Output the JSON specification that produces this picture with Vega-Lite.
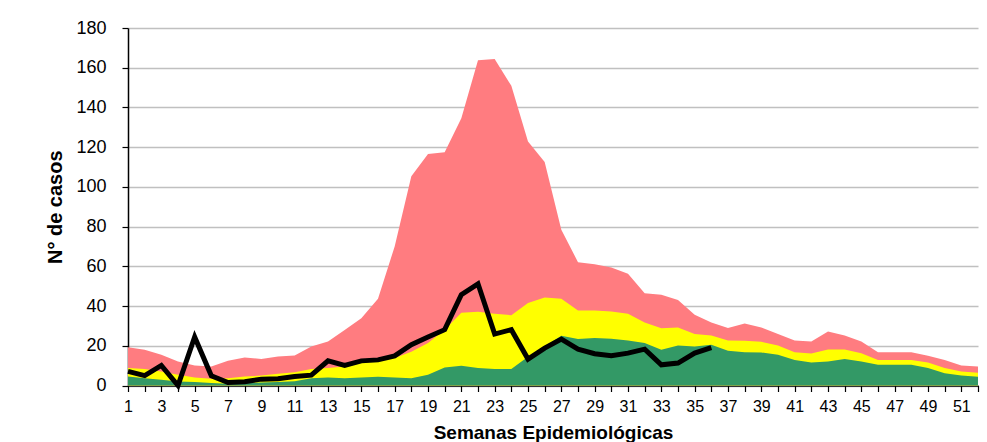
{
  "$schema": "https://vega.github.io/schema/vega-lite/v6.json",
  "width": 850,
  "height": 357.5,
  "autosize": "none",
  "padding": {"left": 128, "top": 28, "right": 9, "bottom": 56},
  "background": "white",
  "config": {
    "view": {"stroke": null},
    "font": "Liberation Sans",
    "axis": {"labelFont": "Liberation Sans", "titleFont": "Liberation Sans", "labelColor": "black", "titleColor": "black", "domainColor": "black", "tickColor": "black", "domainWidth": 1.5, "tickWidth": 1.2, "labelOverlap": false},
    "axisY": {"labelOverlap": false, "title": "N° de casos", "titleFontSize": 20, "titleFontWeight": "bold", "titlePadding": 10, "labelFontSize": 18, "labelPadding": 16, "tickSize": 6, "grid": true, "gridColor": "#c0c0c0", "gridWidth": 1.5}
  },
  "data": {
    "values": [
      {"semana": 1, "alerta": 19.3, "seguridad": 8.8, "exito": 4.5, "actual": 7.1},
      {"semana": 2, "alerta": 18.0, "seguridad": 8.3, "exito": 3.7, "actual": 5.0},
      {"semana": 3, "alerta": 15.5, "seguridad": 7.1, "exito": 2.9, "actual": 10.1},
      {"semana": 4, "alerta": 12.1, "seguridad": 5.4, "exito": 2.0, "actual": 0},
      {"semana": 5, "alerta": 10.1, "seguridad": 4.0, "exito": 1.7, "actual": 24.4},
      {"semana": 6, "alerta": 9.6, "seguridad": 3.4, "exito": 1.2, "actual": 4.9},
      {"semana": 7, "alerta": 12.4, "seguridad": 3.7, "exito": 0.9, "actual": 1.5},
      {"semana": 8, "alerta": 14.1, "seguridad": 4.5, "exito": 1.2, "actual": 1.9},
      {"semana": 9, "alerta": 13.4, "seguridad": 5.0, "exito": 1.5, "actual": 3.2},
      {"semana": 10, "alerta": 14.6, "seguridad": 5.9, "exito": 1.7, "actual": 3.4},
      {"semana": 11, "alerta": 15.1, "seguridad": 6.7, "exito": 2.2, "actual": 4.5},
      {"semana": 12, "alerta": 19.6, "seguridad": 8.3, "exito": 3.7, "actual": 5.2},
      {"semana": 13, "alerta": 22.2, "seguridad": 8.8, "exito": 4.0, "actual": 12.4},
      {"semana": 14, "alerta": 28.0, "seguridad": 9.6, "exito": 3.7, "actual": 10.1},
      {"semana": 15, "alerta": 33.9, "seguridad": 12.1, "exito": 4.0, "actual": 12.4},
      {"semana": 16, "alerta": 43.7, "seguridad": 12.9, "exito": 4.4, "actual": 12.9},
      {"semana": 17, "alerta": 70.0, "seguridad": 13.8, "exito": 4.0, "actual": 14.9},
      {"semana": 18, "alerta": 105.3, "seguridad": 17.0, "exito": 3.7, "actual": 20.5},
      {"semana": 19, "alerta": 116.5, "seguridad": 21.4, "exito": 5.4, "actual": 24.4},
      {"semana": 20, "alerta": 117.5, "seguridad": 28.1, "exito": 9.1, "actual": 28.1},
      {"semana": 21, "alerta": 134.6, "seguridad": 36.6, "exito": 9.9, "actual": 45.7},
      {"semana": 22, "alerta": 163.7, "seguridad": 37.1, "exito": 8.8, "actual": 51.2},
      {"semana": 23, "alerta": 164.4, "seguridad": 36.1, "exito": 8.3, "actual": 25.9},
      {"semana": 24, "alerta": 150.9, "seguridad": 35.4, "exito": 8.3, "actual": 28.1},
      {"semana": 25, "alerta": 122.9, "seguridad": 41.5, "exito": 14.5, "actual": 13.3},
      {"semana": 26, "alerta": 112.5, "seguridad": 44.3, "exito": 19.6, "actual": 18.8},
      {"semana": 27, "alerta": 78.4, "seguridad": 43.7, "exito": 25.0, "actual": 23.4},
      {"semana": 28, "alerta": 62.1, "seguridad": 37.8, "exito": 23.4, "actual": 18.3},
      {"semana": 29, "alerta": 61.1, "seguridad": 37.8, "exito": 23.9, "actual": 16.0},
      {"semana": 30, "alerta": 59.4, "seguridad": 37.3, "exito": 23.5, "actual": 15.0},
      {"semana": 31, "alerta": 56.3, "seguridad": 36.1, "exito": 22.7, "actual": 16.3},
      {"semana": 32, "alerta": 46.5, "seguridad": 31.7, "exito": 21.4, "actual": 18.3},
      {"semana": 33, "alerta": 45.7, "seguridad": 28.8, "exito": 18.0, "actual": 10.4},
      {"semana": 34, "alerta": 43.0, "seguridad": 29.2, "exito": 20.2, "actual": 11.3},
      {"semana": 35, "alerta": 35.6, "seguridad": 25.9, "exito": 19.6, "actual": 16.3},
      {"semana": 36, "alerta": 31.7, "seguridad": 25.2, "exito": 20.5, "actual": 19.1},
      {"semana": 37, "alerta": 28.9, "seguridad": 22.7, "exito": 17.5, "actual": null},
      {"semana": 38, "alerta": 31.2, "seguridad": 22.5, "exito": 16.8, "actual": null},
      {"semana": 39, "alerta": 29.2, "seguridad": 22.0, "exito": 16.6, "actual": null},
      {"semana": 40, "alerta": 25.9, "seguridad": 20.2, "exito": 15.5, "actual": null},
      {"semana": 41, "alerta": 22.7, "seguridad": 16.8, "exito": 12.9, "actual": null},
      {"semana": 42, "alerta": 22.2, "seguridad": 16.1, "exito": 11.6, "actual": null},
      {"semana": 43, "alerta": 27.2, "seguridad": 18.1, "exito": 12.1, "actual": null},
      {"semana": 44, "alerta": 25.2, "seguridad": 18.1, "exito": 13.3, "actual": null},
      {"semana": 45, "alerta": 22.2, "seguridad": 16.3, "exito": 12.1, "actual": null},
      {"semana": 46, "alerta": 16.8, "seguridad": 12.9, "exito": 10.4, "actual": null},
      {"semana": 47, "alerta": 16.8, "seguridad": 12.9, "exito": 10.4, "actual": null},
      {"semana": 48, "alerta": 16.8, "seguridad": 12.9, "exito": 10.4, "actual": null},
      {"semana": 49, "alerta": 15.0, "seguridad": 11.6, "exito": 8.8, "actual": null},
      {"semana": 50, "alerta": 12.9, "seguridad": 8.8, "exito": 6.2, "actual": null},
      {"semana": 51, "alerta": 10.1, "seguridad": 7.1, "exito": 5.0, "actual": null},
      {"semana": 52, "alerta": 9.6, "seguridad": 6.4, "exito": 4.4, "actual": null}
    ]
  },
  "encoding": {
    "x": {
      "field": "semana", "type": "quantitative",
      "scale": {"domain": [1, 52], "nice": false, "zero": false},
      "axis": {
        "title": "Semanas Epidemiológicas",
        "titleFontSize": 19, "titleFontWeight": "bold", "titlePadding": 9,
        "values": [1,2,3,4,5,6,7,8,9,10,11,12,13,14,15,16,17,18,19,20,21,22,23,24,25,26,27,28,29,30,31,32,33,34,35,36,37,38,39,40,41,42,43,44,45,46,47,48,49,50,51,52],
        "labelExpr": "datum.value % 2 == 1 ? datum.label : ''",
        "labelFontSize": 16, "labelPadding": 7, "tickSize": 6, "grid": false,
        "labelOverlap": false, "labelFlush": false
      }
    }
  },
  "layer": [
    {
      "mark": {"type": "area", "color": "#FF7C80"},
      "encoding": {
        "y": {
          "field": "alerta", "type": "quantitative",
          "scale": {"domain": [0, 180], "nice": false},
          "axis": {"title": "N° de casos", "values": [0, 20, 40, 60, 80, 100, 120, 140, 160, 180]}
        }
      }
    },
    {
      "mark": {"type": "area", "color": "#FFFF00"},
      "encoding": {"y": {"field": "seguridad", "type": "quantitative", "axis": {"title": "N° de casos", "values": [0, 20, 40, 60, 80, 100, 120, 140, 160, 180]}}}
    },
    {
      "mark": {"type": "area", "color": "#339966"},
      "encoding": {"y": {"field": "exito", "type": "quantitative", "axis": {"title": "N° de casos", "values": [0, 20, 40, 60, 80, 100, 120, 140, 160, 180]}}}
    },
    {
      "mark": {"type": "line", "color": "black", "strokeWidth": 5},
      "encoding": {"y": {"field": "actual", "type": "quantitative", "axis": {"title": "N° de casos", "values": [0, 20, 40, 60, 80, 100, 120, 140, 160, 180]}}}
    }
  ]
}
